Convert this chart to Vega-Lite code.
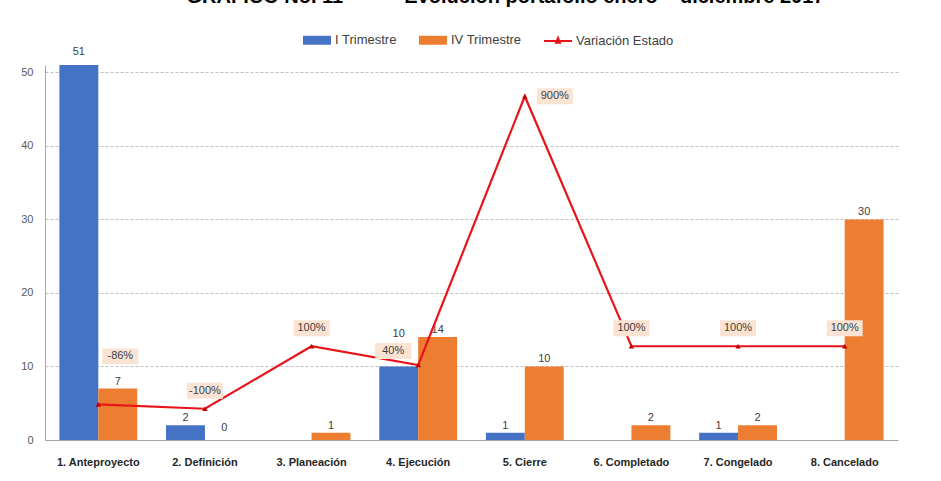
{
  "$schema": "https://vega.github.io/schema/vega-lite/v6.json",
  "width": 853,
  "height": 375,
  "autosize": "none",
  "padding": {"left": 45, "top": 65, "right": 43, "bottom": 41},
  "background": "white",
  "config": {
    "font": "Liberation Sans, Arial, sans-serif",
    "view": {"stroke": null}
  },
  "title": {
    "text": "GRÁFICO No. 11\u00a0\u00a0\u00a0\u00a0\u00a0\u00a0\u00a0\u00a0\u00a0\u00a0 Evolución portafolio enero – diciembre 2017",
    "font": "Liberation Sans, Arial, sans-serif",
    "fontSize": 20,
    "fontWeight": "bold",
    "color": "#000000",
    "anchor": "middle",
    "baseline": "alphabetic",
    "dx": 34,
    "offset": 2
  },
  "datasets": {
    "bars": [
      {"cat": "1. Anteproyecto", "serie": "I Trimestre", "valor": 51},
      {"cat": "1. Anteproyecto", "serie": "IV Trimestre", "valor": 7},
      {"cat": "2. Definición", "serie": "I Trimestre", "valor": 2},
      {"cat": "2. Definición", "serie": "IV Trimestre", "valor": 0},
      {"cat": "3. Planeación", "serie": "IV Trimestre", "valor": 1},
      {"cat": "4. Ejecución", "serie": "I Trimestre", "valor": 10},
      {"cat": "4. Ejecución", "serie": "IV Trimestre", "valor": 14},
      {"cat": "5. Cierre", "serie": "I Trimestre", "valor": 1},
      {"cat": "5. Cierre", "serie": "IV Trimestre", "valor": 10},
      {"cat": "6. Completado", "serie": "IV Trimestre", "valor": 2},
      {"cat": "7. Congelado", "serie": "I Trimestre", "valor": 1},
      {"cat": "7. Congelado", "serie": "IV Trimestre", "valor": 2},
      {"cat": "8. Cancelado", "serie": "IV Trimestre", "valor": 30}
    ],
    "linea": [
      {"cat": "1. Anteproyecto", "variacion": -86, "etiqueta": "-86%", "pos": "a"},
      {"cat": "2. Definición", "variacion": -100, "etiqueta": "-100%", "pos": "n"},
      {"cat": "3. Planeación", "variacion": 100, "etiqueta": "100%", "pos": "n"},
      {"cat": "4. Ejecución", "variacion": 40, "etiqueta": "40%", "pos": "e"},
      {"cat": "5. Cierre", "variacion": 900, "etiqueta": "900%", "pos": "c"},
      {"cat": "6. Completado", "variacion": 100, "etiqueta": "100%", "pos": "n"},
      {"cat": "7. Congelado", "variacion": 100, "etiqueta": "100%", "pos": "n"},
      {"cat": "8. Cancelado", "variacion": 100, "etiqueta": "100%", "pos": "n"}
    ]
  },
  "encoding": {
    "x": {
      "field": "cat",
      "type": "nominal",
      "sort": null,
      "scale": {"paddingInner": 0.27, "paddingOuter": 0.135},
      "axis": {
        "title": null,
        "labelAngle": 0,
        "labelFontSize": 11,
        "labelFontWeight": "bold",
        "labelColor": "#262626",
        "ticks": false,
        "tickSize": 0,
        "labelPadding": 16,
        "domainColor": "#a6a6a6",
        "domainWidth": 1
      }
    }
  },
  "layer": [
    {
      "data": {"name": "bars"},
      "encoding": {
        "xOffset": {"field": "serie", "type": "nominal", "sort": ["I Trimestre", "IV Trimestre"]},
        "y": {
          "field": "valor",
          "type": "quantitative",
          "scale": {"domain": [0, 51], "nice": false},
          "axis": {
            "title": null,
            "values": [0, 10, 20, 30, 40, 50],
            "labelFontSize": 11,
            "labelColor": "#595959",
            "ticks": false,
            "tickSize": 0,
            "labelPadding": 12,
            "domainColor": "#a6a6a6",
            "gridColor": "#bfbfbf",
            "gridDash": [3, 2],
            "gridWidth": 1
          }
        }
      },
      "layer": [
        {
          "mark": {"type": "bar"},
          "encoding": {
            "color": {
              "field": "serie",
              "type": "nominal",
              "scale": {
                "domain": ["I Trimestre", "IV Trimestre", "Variación Estado"],
                "range": ["#4472c4", "#ed7d31", "#e8141b"]
              },
              "legend": {
                "orient": "none",
                "direction": "horizontal",
                "legendX": 257,
                "legendY": -40,
                "title": null,
                "labelFontSize": 13,
                "labelColor": "#404040",
                "labelOffset": 3,
                "columnPadding": 18,
                "symbolSize": 784,
                "symbolStrokeWidth": 2,
                "encode": {
                  "symbols": {
                    "update": {
                      "shape": {"signal": "datum.label === 'Variación Estado' ? 'M-1,0H1M0,-0.22L0.14,0.12L-0.14,0.12Z' : 'M-1,-0.32H1V0.32H-1Z'"},
                      "stroke": {"signal": "datum.label === 'Variación Estado' ? '#e8141b' : 'transparent'"},
                      "strokeWidth": {"value": 2}
                    }
                  }
                }
              }
            }
          }
        },
        {
          "transform": [{"filter": "datum.valor != 51 && !(datum.cat === '4. Ejecución' && datum.serie === 'I Trimestre') && datum.valor != 0"}],
          "mark": {"type": "text", "baseline": "middle", "dy": -7, "fontSize": 11, "color": "#404040"},
          "encoding": {"text": {"field": "valor", "type": "quantitative"}}
        },
        {
          "transform": [{"filter": "datum.valor == 51"}],
          "mark": {"type": "text", "baseline": "middle", "dy": -13, "fontSize": 11, "color": "#404040"},
          "encoding": {"text": {"field": "valor", "type": "quantitative"}}
        },
        {
          "transform": [{"filter": "datum.valor == 0"}],
          "mark": {"type": "text", "baseline": "middle", "dy": -12, "fontSize": 11, "color": "#404040"},
          "encoding": {"text": {"field": "valor", "type": "quantitative"}}
        },
        {
          "transform": [{"filter": "datum.cat === '4. Ejecución' && datum.serie === 'I Trimestre'"}],
          "mark": {"type": "text", "baseline": "middle", "dy": -32, "fontSize": 11, "color": "#404040"},
          "encoding": {"text": {"field": "valor", "type": "quantitative"}}
        }
      ]
    },
    {
      "data": {"name": "linea"},
      "encoding": {
        "y": {
          "field": "variacion",
          "type": "quantitative",
          "scale": {"domain": [-200, 1000], "nice": false},
          "axis": null
        }
      },
      "layer": [
        {"mark": {"type": "line", "color": "#e8141b", "strokeWidth": 2.2}, "encoding": {}},
        {"mark": {"type": "point", "shape": "triangle-up", "filled": true, "color": "#c00000", "size": 30, "opacity": 1}, "encoding": {}},
        {
          "transform": [{"filter": "datum.pos === 'n'"}],
          "mark": {"type": "point", "shape": "M-1,-0.44H1V0.44H-1Z", "size": 1296, "filled": true, "color": "#fbe3d4", "opacity": 1, "yOffset": -18},
          "encoding": {}
        },
        {
          "transform": [{"filter": "datum.pos === 'n'"}],
          "mark": {"type": "text", "baseline": "middle", "dy": -18, "fontSize": 11, "color": "#404040"},
          "encoding": {"text": {"field": "etiqueta", "type": "nominal"}}
        },
        {
          "transform": [{"filter": "datum.pos === 'a'"}],
          "mark": {"type": "point", "shape": "M-1,-0.44H1V0.44H-1Z", "size": 1296, "filled": true, "color": "#fbe3d4", "opacity": 1, "xOffset": 22, "yOffset": -48},
          "encoding": {}
        },
        {
          "transform": [{"filter": "datum.pos === 'a'"}],
          "mark": {"type": "text", "baseline": "middle", "dx": 22, "dy": -48, "fontSize": 11, "color": "#404040"},
          "encoding": {"text": {"field": "etiqueta", "type": "nominal"}}
        },
        {
          "transform": [{"filter": "datum.pos === 'e'"}],
          "mark": {"type": "point", "shape": "M-1,-0.44H1V0.44H-1Z", "size": 1296, "filled": true, "color": "#fbe3d4", "opacity": 1, "xOffset": -25, "yOffset": -14},
          "encoding": {}
        },
        {
          "transform": [{"filter": "datum.pos === 'e'"}],
          "mark": {"type": "text", "baseline": "middle", "dx": -25, "dy": -14, "fontSize": 11, "color": "#404040"},
          "encoding": {"text": {"field": "etiqueta", "type": "nominal"}}
        },
        {
          "transform": [{"filter": "datum.pos === 'c'"}],
          "mark": {"type": "point", "shape": "M-1,-0.44H1V0.44H-1Z", "size": 1296, "filled": true, "color": "#fbe3d4", "opacity": 1, "xOffset": 30, "yOffset": 0},
          "encoding": {}
        },
        {
          "transform": [{"filter": "datum.pos === 'c'"}],
          "mark": {"type": "text", "baseline": "middle", "dx": 30, "dy": 0, "fontSize": 11, "color": "#404040"},
          "encoding": {"text": {"field": "etiqueta", "type": "nominal"}}
        }
      ]
    }
  ],
  "resolve": {"scale": {"y": "independent"}}
}
